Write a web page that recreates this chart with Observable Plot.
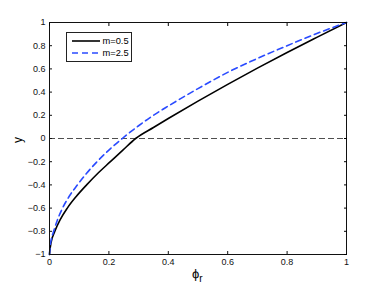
<!DOCTYPE html>
<html><head><meta charset="utf-8">
<script src="https://cdn.jsdelivr.net/npm/d3@7"></script>
<script src="https://cdn.jsdelivr.net/npm/@observablehq/plot@0.6"></script>
<style>
body{margin:0;background:#fff}
#wrap{position:relative;width:382px;height:287px;font-family:"Liberation Sans",Arial,sans-serif}
#legend{position:absolute;left:65.5px;top:32px;width:64px;height:28px;border:1px solid #222;background:#fff;font-size:9.3px}
.row{position:absolute;left:5px;height:12px;display:flex;align-items:center}
.row svg{margin-right:3px}
#ylab{position:absolute;left:15px;top:133px;font-size:12px;transform:rotate(-90deg);transform-origin:center}
#xlab{position:absolute;left:192px;top:266px;font-size:13px}
#xlab sub{font-size:10px;vertical-align:-4px}
</style>
</head><body><div id="wrap"></div>
<script>
const seriesNames = ["m=0.5", "m=2.5"];
const seriesColors = ["#000000", "#2a4bff"];
const phiBlack = [0, 0.002, 0.005, 0.018, 0.036, 0.06, 0.09, 0.125, 0.163, 0.205, 0.247, 0.29, 0.35, 0.4, 0.5, 0.6, 0.7, 0.8, 0.9, 1];
const yBlack   = [-1, -0.95, -0.9, -0.8, -0.7, -0.6, -0.5, -0.4, -0.3, -0.2, -0.1, 0, 0.095, 0.172, 0.322, 0.467, 0.607, 0.742, 0.872, 1];
const phiBlue  = [0, 0.002, 0.006, 0.014, 0.027, 0.044, 0.066, 0.094, 0.125, 0.16, 0.2, 0.245, 0.3, 0.35, 0.4, 0.5, 0.6, 0.7, 0.8, 0.9, 1];
const yBlue    = [-1, -0.93, -0.87, -0.8, -0.7, -0.6, -0.5, -0.4, -0.3, -0.2, -0.1, 0, 0.11, 0.2, 0.28, 0.43, 0.57, 0.69, 0.8, 0.905, 1];
const xTicks = [0, 0.2, 0.4, 0.6, 0.8, 1];
const yTicks = [-1, -0.8, -0.6, -0.4, -0.2, 0, 0.2, 0.4, 0.6, 0.8, 1];
const zeroLine = [0];

const black = phiBlack.map((x, i) => ({x, y: yBlack[i]}));
const blue = phiBlue.map((x, i) => ({x, y: yBlue[i]}));
const fmt = d => (d < 0 ? "\u2212" : "") + Math.abs(d);

const chart = Plot.plot({
  width: 382, height: 287,
  marginLeft: 49, marginRight: 36, marginTop: 22, marginBottom: 33,
  style: {fontFamily: '"Liberation Sans", Arial, sans-serif', fontSize: "9px", background: "#fff"},
  x: {domain: [0, 1]},
  y: {domain: [-1, 1]},
  marks: [
    Plot.ruleY(zeroLine, {stroke: "#222", strokeWidth: 0.8, strokeDasharray: "6,3"}),
    Plot.line(black, {x: "x", y: "y", stroke: seriesColors[0], strokeWidth: 1.6, curve: "monotone-x"}),
    Plot.line(blue, {x: "x", y: "y", stroke: seriesColors[1], strokeWidth: 1.6, strokeDasharray: "6,4", curve: "monotone-x"}),
    Plot.frame({stroke: "#111", strokeWidth: 1}),
    Plot.axisX(xTicks, {anchor: "bottom", tickSize: -3, tickPadding: 7, tickFormat: fmt, label: null, fontSize: 9, color: "#111"}),
    Plot.axisX(xTicks, {anchor: "top", tickSize: -3, tickFormat: () => "", label: null}),
    Plot.axisY(yTicks, {anchor: "left", tickSize: -3, tickPadding: 7, tickFormat: fmt, label: null, fontSize: 9, color: "#111"}),
    Plot.axisY(yTicks, {anchor: "right", tickSize: -3, tickFormat: () => "", label: null})
  ]
});
const wrap = document.getElementById("wrap");
wrap.appendChild(chart);

const legend = document.createElement("div");
legend.id = "legend";
seriesNames.forEach((name, i) => {
  const row = document.createElement("div");
  row.className = "row";
  row.style.top = (2 + i * 12) + "px";
  row.innerHTML = `<svg width="28" height="4"><line x1="0" y1="2" x2="28" y2="2" stroke="${seriesColors[i]}" stroke-width="1.6" ${i ? 'stroke-dasharray="6,4"' : ''}/></svg><span>${name}</span>`;
  legend.appendChild(row);
});
wrap.appendChild(legend);

const ylab = document.createElement("div");
ylab.id = "ylab"; ylab.textContent = "y";
wrap.appendChild(ylab);
const xlab = document.createElement("div");
xlab.id = "xlab"; xlab.innerHTML = "\u03d5<sub>r</sub>";
wrap.appendChild(xlab);
</script>
</body></html>
